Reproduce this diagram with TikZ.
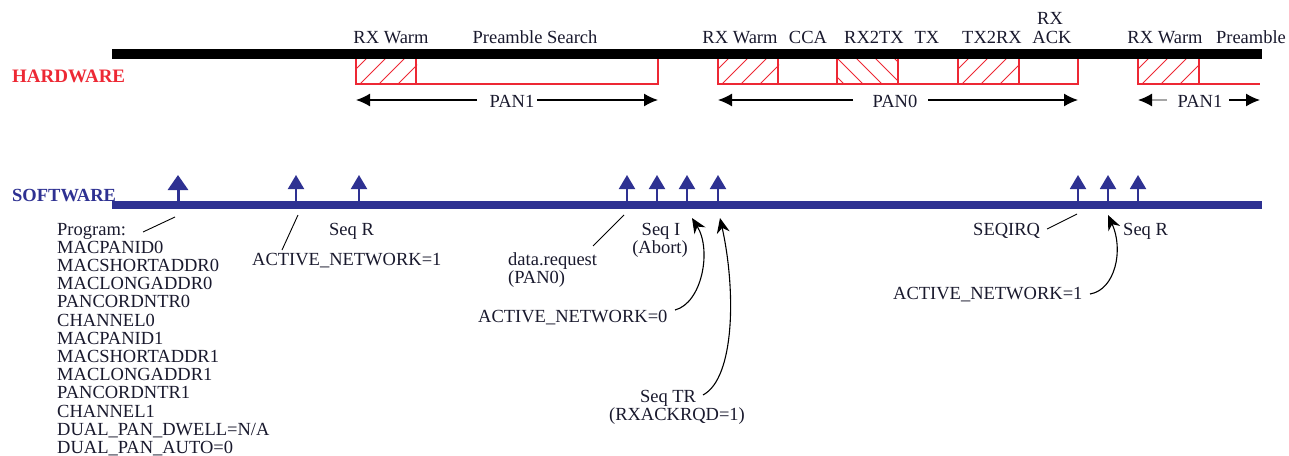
\documentclass[tikz,border=0pt]{standalone}
\usepackage{fontspec}
\setmainfont{Liberation Serif}
\usetikzlibrary{arrows.meta}
\definecolor{hwred}{RGB}{237,40,52}
\definecolor{swblue}{RGB}{46,49,146}
\definecolor{txt}{RGB}{25,25,45}
\begin{document}
\begin{tikzpicture}[x=1pt,y=-1pt,
  lbl/.style={font=\fontsize{18.5}{18.2}\selectfont, text=txt, inner sep=0pt, anchor=base},
  lblw/.style={lbl, anchor=base west},
  hwbox/.style={draw=hwred, line width=1.2pt},
  hatchline/.style={draw=hwred, line width=1pt},
  panarr/.style={draw=black, line width=1.4pt, -{Latex[length=14pt,width=13pt]}},
  swarr/.style={draw=swblue, line width=2pt, -{Triangle[length=14pt,width=16pt]}},
  swarrbig/.style={draw=swblue, line width=3pt, -{Triangle[length=15pt,width=20pt]}},
  leader/.style={draw=black, line width=0.9pt},
  curvarr/.style={draw=black, line width=1.1pt, -{Stealth[length=15pt,width=13pt]}}]
\useasboundingbox (0,0) rectangle (1289,455);

% ---------------- hardware boxes
\foreach \a in {356,718,958,1138} {
  \begin{scope}
    \clip (\a,58) rectangle (\a+61,84);
    \foreach \k in {-2,...,3} \draw[hatchline] (\a+4+\k*19,84) -- ++(30,-30);
  \end{scope}
}
\begin{scope}
  \clip (837,58) rectangle (898,84);
  \foreach \k in {-2,...,3} \draw[hatchline] (837+\k*19,58) -- ++(30,30);
\end{scope}
\draw[hwbox] (356,58) -- (356,84) -- (658,84) -- (658,58);
\draw[hwbox] (416,58) -- (416,84);
\draw[hwbox] (718,58) -- (718,84) -- (1078,84) -- (1078,58);
\foreach \d in {778,837,898,958,1019} \draw[hwbox] (\d,58) -- (\d,84);
\draw[hwbox] (1138,58) -- (1138,84) -- (1260,84);
\draw[hwbox] (1199,58) -- (1199,84);

% hardware bar
\coordinate (hwL) at (112,54);
\coordinate (hwR) at (1262,54);
\draw[line width=10pt, black] (hwL) -- (hwR);

% top labels
\node[lbl] (rxw1) at (391,43) {RX Warm};
\node[lbl] (ps) at (535,43) {Preamble Search};
\node[lbl] (rxw2) at (740,43) {RX Warm};
\node[lbl] (cca) at (808,43) {CCA};
\node[lbl] (rx2tx) at (874,43) {RX2TX};
\node[lbl] (tx) at (927,43) {TX};
\node[lbl] (tx2rx) at (992,43) {TX2RX};
\node[lbl] (rxa1) at (1050,24) {RX};
\node[lbl] (rxa2) at (1052,43) {ACK};
\node[lbl] (rxw3) at (1165,43) {RX Warm};
\node[lbl] (pre) at (1251,43) {Preamble};

\node[lblw, font=\fontsize{19}{19}\selectfont\bfseries, text=hwred] (hw) at (12,82) {HARDWARE};

% PAN arrows
\node[lbl] (pan1a) at (512,107) {PAN1};
\node[lbl] (pan0) at (895,107) {PAN0};
\node[lbl] (pan1b) at (1200,107) {PAN1};
\coordinate (p1aL) at (356,100); \coordinate (p1aLs) at (477,100);
\coordinate (p1aR) at (658,100); \coordinate (p1aRs) at (537,100);
\coordinate (p0L) at (718,100); \coordinate (p0Ls) at (853,100);
\coordinate (p0R) at (1078,100); \coordinate (p0Rs) at (928,100);
\coordinate (p1bL) at (1138,100); \coordinate (p1bLs) at (1167,100);
\coordinate (p1bR) at (1260,100); \coordinate (p1bRs) at (1229,100);
\draw[panarr] (p1aLs) -- (p1aL);
\draw[panarr] (p1aRs) -- (p1aR);
\draw[panarr] (p0Ls) -- (p0L);
\draw[panarr] (p0Rs) -- (p0R);
\draw[panarr, draw=gray!70, -{Latex[length=14pt,width=13pt,color=black]}] (p1bLs) -- (p1bL);
\draw[panarr] (p1bRs) -- (p1bR);

% ---------------- software
\coordinate (swL) at (112,205);
\coordinate (swR) at (1262,205);
\draw[line width=8pt, swblue] (swL) -- (swR);
\node[lblw, font=\fontsize{18.5}{18.5}\selectfont\bfseries, text=swblue] (sw) at (12,201) {SOFTWARE};

\coordinate (u1) at (178,201);
\draw[swarrbig] (u1) -- (178,175);
\foreach \x/\n in {296/u2,359/u3,627/u4,657/u5,687/u6,718/u7,1078/u8,1108/u9,1138/u10} {
  \coordinate (\n) at (\x,201);
  \draw[swarr] (\n) -- (\x,175);
}

% labels below (base anchor = baseline of last line)
\node[lblw, align=left] (prog) at (57,453.4) {Program:\\MACPANID0\\MACSHORTADDR0\\MACLONGADDR0\\PANCORDNTR0\\CHANNEL0\\MACPANID1\\MACSHORTADDR1\\MACLONGADDR1\\PANCORDNTR1\\CHANNEL1\\DUAL\_PAN\_DWELL=N/A\\DUAL\_PAN\_AUTO=0};
\coordinate (progA) at (143,232); \coordinate (progB) at (175,217);
\draw[leader] (progA) -- (progB);

\node[lblw] (an1) at (252,265) {ACTIVE\_NETWORK=1};
\coordinate (an1A) at (282,250); \coordinate (an1B) at (298,215);
\draw[leader] (an1A) -- (an1B);

\node[lblw] (seqr1) at (329,235) {Seq R};

\node[lblw, align=left] (dreq) at (508,283.2) {data.request\\(PAN0)};
\coordinate (dreqA) at (593,246); \coordinate (dreqB) at (624,215);
\draw[leader] (dreqA) -- (dreqB);

\node[lbl] (seqi) at (661,235) {Seq I};
\node[lbl] (abort) at (660,253) {(Abort)};

\node[lblw] (an0) at (478,322) {ACTIVE\_NETWORK=0};
\coordinate (an0T) at (692,218);
\draw[curvarr] (675,310) .. controls (702,303) and (712,250) .. (an0T);

\node[lbl] (seqtr) at (668,402) {Seq TR};
\node[lbl] (rxack) at (677,420) {(RXACKRQD=1)};
\coordinate (seqtrT) at (720,218);
\draw[curvarr] (703,395) .. controls (735,378) and (736,290) .. (seqtrT);

\node[lblw] (seqirq) at (973,235) {SEQIRQ};
\coordinate (sqA) at (1047,229); \coordinate (sqB) at (1077,214);
\draw[leader] (sqA) -- (sqB);

\node[lblw] (seqr2) at (1123,235) {Seq R};

\node[lblw] (an1b) at (893,299) {ACTIVE\_NETWORK=1};
\coordinate (an1bT) at (1108,215);
\draw[curvarr] (1090,294) .. controls (1115,290) and (1124,250) .. (an1bT);
\end{tikzpicture}
\end{document}
